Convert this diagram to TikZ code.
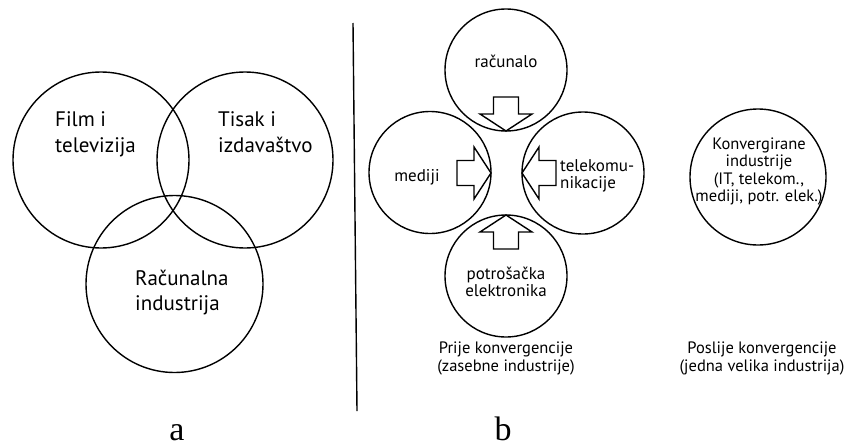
\documentclass[tikz,border=0pt]{standalone}
\usepackage{fontspec}
\setmainfont{PT Sans}
\newfontfamily\labfont{Liberation Serif}
\begin{document}
\begin{tikzpicture}[x=1pt,y=-1pt,
  ring/.style={draw, circle, line width=1.4pt, inner sep=0pt},
  vtxt/.style={font=\fontsize{21}{26}\selectfont, anchor=base west, inner sep=0pt},
  stxt/.style={font=\fontsize{17}{17}\selectfont, inner sep=0pt},
  ctxt/.style={font=\fontsize{16.5}{17}\selectfont, anchor=base, inner sep=0pt},
  ktxt/.style={font=\fontsize{16.5}{17}\selectfont, anchor=base, inner sep=0pt},
  labtxt/.style={font=\labfont\fontsize{34}{34}\selectfont, anchor=base, inner sep=0pt},
  blockarrow/.pic={\draw[line width=1.4pt, line join=miter]
     (0,0) -- (-17,-26) -- (-17,-12.5) -- (-34,-12.5) -- (-34,12.5) -- (-17,12.5) -- (-17,26) -- cycle;}
]
\useasboundingbox (0,0) rectangle (848,447);

% ---- part a: Venn ----
\node[ring, minimum size=176pt] (film) at (101,160) {};
\node[ring, minimum size=176pt] (tisak) at (245,160) {};
\node[ring, minimum size=177pt] (racind) at (174.5,284) {};

\node[vtxt] (film1) at (55,126) {Film i};
\node[vtxt] (film2) at (55,152) {televizija};
\node[vtxt] (tisak1) at (218,126) {Tisak i};
\node[vtxt] (tisak2) at (218,152) {izdavaštvo};
\node[vtxt] (rac1) at (135,285) {Računalna};
\node[vtxt] (rac2) at (135,310) {industrija};

% ---- separator ----
\coordinate (sepTop) at (353,23);
\coordinate (sepBot) at (357,411);
\draw[line width=1.4pt] (sepTop) -- (sepBot);

% ---- part b: before convergence ----
\node[ring, minimum size=122pt] (racunalo) at (506,70) {};
\node[ring, minimum size=122pt] (mediji) at (430,172.5) {};
\node[ring, minimum size=122pt] (telekom) at (583,173) {};
\node[ring, minimum size=122pt] (potros) at (506,276) {};

\pic[rotate=-90] at (506,131) {blockarrow};
\pic at (491,173) {blockarrow};
\pic[rotate=180] at (522,173) {blockarrow};
\pic[rotate=90] at (506,215) {blockarrow};

\node[stxt, anchor=base] (tr) at (506,67) {računalo};
\node[stxt, anchor=base] (tm) at (417,181) {mediji};
\node[stxt, anchor=base west] (tt1) at (560,171) {telekomu-};
\node[stxt, anchor=base west] (tt2) at (560,188) {nikacije};
\node[stxt, anchor=base] (tp1) at (506,279) {potrošačka};
\node[stxt, anchor=base] (tp2) at (506,296) {elektronika};

\node[ctxt] (pr1) at (506,353) {Prije konvergencije};
\node[ctxt] (pr2) at (506,371) {(zasebne industrije)};

% ---- after convergence ----
\node[ring, minimum size=136pt] (konv) at (758,177) {};
\node[ktxt] (k1) at (759,149) {Konvergirane};
\node[ktxt] (k2) at (759,166.5) {industrije};
\node[ktxt] (k3) at (759,184) {(IT, telekom.,};
\node[ktxt] (k4) at (759,201.5) {mediji, potr. elek.)};

\node[ctxt] (po1) at (762,353) {Poslije konvergencije};
\node[ctxt] (po2) at (762,371) {(jedna velika industrija)};

% ---- labels ----
\node[labtxt] (la) at (177,440) {a};
\node[labtxt] (lb) at (503,440) {b};
\end{tikzpicture}
\end{document}
